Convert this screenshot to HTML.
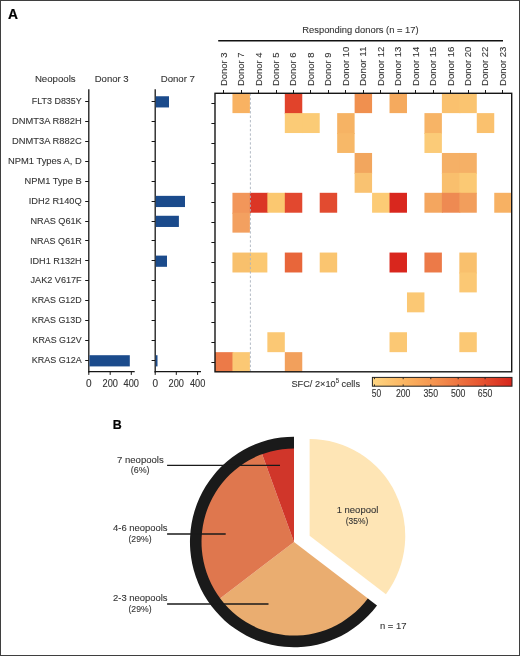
<!DOCTYPE html>
<html><head><meta charset="utf-8"><style>
html,body{margin:0;padding:0;background:#fff;}
body{width:520px;height:656px;overflow:hidden;}
svg{display:block;font-family:"Liberation Sans", sans-serif;will-change:transform;}
text{stroke:#353535;stroke-width:0.12px;}
</style></head><body>
<svg width="520" height="656" viewBox="0 0 520 656">
<rect width="520" height="656" fill="#fff"/>
<rect x="0.5" y="0.5" width="519" height="655" fill="none" stroke="#3f3f3f" stroke-width="1"/>
<text x="8" y="18.5" font-size="13.8" font-weight="bold" fill="#000" style="stroke:#000;stroke-width:0.2px">A</text>
<text x="112.8" y="429.4" font-size="12.4" font-weight="bold" fill="#000" style="stroke:#000;stroke-width:0.2px">B</text>
<text x="34.9" y="81.8" font-size="9.9" text-anchor="start" fill="#353535" textLength="40.8" lengthAdjust="spacingAndGlyphs">Neopools</text>
<text x="94.7" y="81.8" font-size="9.9" text-anchor="start" fill="#353535" textLength="34.0" lengthAdjust="spacingAndGlyphs">Donor 3</text>
<text x="160.7" y="81.8" font-size="9.9" text-anchor="start" fill="#353535" textLength="34.3" lengthAdjust="spacingAndGlyphs">Donor 7</text>
<text x="31.85" y="104.2" font-size="9.9" text-anchor="start" fill="#353535" textLength="49.85" lengthAdjust="spacingAndGlyphs">FLT3 D835Y</text>
<text x="12.0" y="124.12" font-size="9.9" text-anchor="start" fill="#353535" textLength="69.7" lengthAdjust="spacingAndGlyphs">DNMT3A R882H</text>
<text x="12.0" y="144.04" font-size="9.9" text-anchor="start" fill="#353535" textLength="69.7" lengthAdjust="spacingAndGlyphs">DNMT3A R882C</text>
<text x="8.0" y="163.95999999999998" font-size="9.9" text-anchor="start" fill="#353535" textLength="73.7" lengthAdjust="spacingAndGlyphs">NPM1 Types A, D</text>
<text x="24.5" y="183.88" font-size="9.9" text-anchor="start" fill="#353535" textLength="57.2" lengthAdjust="spacingAndGlyphs">NPM1 Type B</text>
<text x="28.75" y="203.8" font-size="9.9" text-anchor="start" fill="#353535" textLength="52.95" lengthAdjust="spacingAndGlyphs">IDH2 R140Q</text>
<text x="30.5" y="223.72" font-size="9.9" text-anchor="start" fill="#353535" textLength="51.2" lengthAdjust="spacingAndGlyphs">NRAS Q61K</text>
<text x="30.5" y="243.64" font-size="9.9" text-anchor="start" fill="#353535" textLength="51.2" lengthAdjust="spacingAndGlyphs">NRAS Q61R</text>
<text x="30.0" y="263.56" font-size="9.9" text-anchor="start" fill="#353535" textLength="51.7" lengthAdjust="spacingAndGlyphs">IDH1 R132H</text>
<text x="30.5" y="283.48" font-size="9.9" text-anchor="start" fill="#353535" textLength="51.2" lengthAdjust="spacingAndGlyphs">JAK2 V617F</text>
<text x="31.75" y="303.40000000000003" font-size="9.9" text-anchor="start" fill="#353535" textLength="49.95" lengthAdjust="spacingAndGlyphs">KRAS G12D</text>
<text x="31.75" y="323.32" font-size="9.9" text-anchor="start" fill="#353535" textLength="49.95" lengthAdjust="spacingAndGlyphs">KRAS G13D</text>
<text x="32.5" y="343.24" font-size="9.9" text-anchor="start" fill="#353535" textLength="49.2" lengthAdjust="spacingAndGlyphs">KRAS G12V</text>
<text x="31.75" y="363.16" font-size="9.9" text-anchor="start" fill="#353535" textLength="49.95" lengthAdjust="spacingAndGlyphs">KRAS G12A</text>
<line x1="88.8" y1="89.2" x2="88.8" y2="372.4" stroke="#161616" stroke-width="1.3"/>
<line x1="88.2" y1="371.7" x2="134.7" y2="371.7" stroke="#161616" stroke-width="1.3"/>
<line x1="85.2" y1="101.50" x2="88.8" y2="101.50" stroke="#161616" stroke-width="1"/>
<line x1="85.2" y1="121.50" x2="88.8" y2="121.50" stroke="#161616" stroke-width="1"/>
<line x1="85.2" y1="141.50" x2="88.8" y2="141.50" stroke="#161616" stroke-width="1"/>
<line x1="85.2" y1="161.50" x2="88.8" y2="161.50" stroke="#161616" stroke-width="1"/>
<line x1="85.2" y1="181.50" x2="88.8" y2="181.50" stroke="#161616" stroke-width="1"/>
<line x1="85.2" y1="201.50" x2="88.8" y2="201.50" stroke="#161616" stroke-width="1"/>
<line x1="85.2" y1="221.50" x2="88.8" y2="221.50" stroke="#161616" stroke-width="1"/>
<line x1="85.2" y1="240.50" x2="88.8" y2="240.50" stroke="#161616" stroke-width="1"/>
<line x1="85.2" y1="260.50" x2="88.8" y2="260.50" stroke="#161616" stroke-width="1"/>
<line x1="85.2" y1="280.50" x2="88.8" y2="280.50" stroke="#161616" stroke-width="1"/>
<line x1="85.2" y1="300.50" x2="88.8" y2="300.50" stroke="#161616" stroke-width="1"/>
<line x1="85.2" y1="320.50" x2="88.8" y2="320.50" stroke="#161616" stroke-width="1"/>
<line x1="85.2" y1="340.50" x2="88.8" y2="340.50" stroke="#161616" stroke-width="1"/>
<line x1="85.2" y1="360.50" x2="88.8" y2="360.50" stroke="#161616" stroke-width="1"/>
<line x1="88.8" y1="371.7" x2="88.8" y2="374.9" stroke="#161616" stroke-width="1"/>
<text x="88.8" y="386.6" font-size="10.6" text-anchor="middle" fill="#353535" textLength="5.6" lengthAdjust="spacingAndGlyphs">0</text>
<line x1="110.2" y1="371.7" x2="110.2" y2="374.9" stroke="#161616" stroke-width="1"/>
<text x="110.2" y="386.6" font-size="10.6" text-anchor="middle" fill="#353535" textLength="15.4" lengthAdjust="spacingAndGlyphs">200</text>
<line x1="131.3" y1="371.7" x2="131.3" y2="374.9" stroke="#161616" stroke-width="1"/>
<text x="131.3" y="386.6" font-size="10.6" text-anchor="middle" fill="#353535" textLength="15.4" lengthAdjust="spacingAndGlyphs">400</text>
<line x1="155.2" y1="89.2" x2="155.2" y2="372.4" stroke="#161616" stroke-width="1.3"/>
<line x1="154.6" y1="371.7" x2="201" y2="371.7" stroke="#161616" stroke-width="1.3"/>
<line x1="151.6" y1="101.50" x2="155.2" y2="101.50" stroke="#161616" stroke-width="1"/>
<line x1="151.6" y1="121.50" x2="155.2" y2="121.50" stroke="#161616" stroke-width="1"/>
<line x1="151.6" y1="141.50" x2="155.2" y2="141.50" stroke="#161616" stroke-width="1"/>
<line x1="151.6" y1="161.50" x2="155.2" y2="161.50" stroke="#161616" stroke-width="1"/>
<line x1="151.6" y1="181.50" x2="155.2" y2="181.50" stroke="#161616" stroke-width="1"/>
<line x1="151.6" y1="201.50" x2="155.2" y2="201.50" stroke="#161616" stroke-width="1"/>
<line x1="151.6" y1="221.50" x2="155.2" y2="221.50" stroke="#161616" stroke-width="1"/>
<line x1="151.6" y1="240.50" x2="155.2" y2="240.50" stroke="#161616" stroke-width="1"/>
<line x1="151.6" y1="260.50" x2="155.2" y2="260.50" stroke="#161616" stroke-width="1"/>
<line x1="151.6" y1="280.50" x2="155.2" y2="280.50" stroke="#161616" stroke-width="1"/>
<line x1="151.6" y1="300.50" x2="155.2" y2="300.50" stroke="#161616" stroke-width="1"/>
<line x1="151.6" y1="320.50" x2="155.2" y2="320.50" stroke="#161616" stroke-width="1"/>
<line x1="151.6" y1="340.50" x2="155.2" y2="340.50" stroke="#161616" stroke-width="1"/>
<line x1="151.6" y1="360.50" x2="155.2" y2="360.50" stroke="#161616" stroke-width="1"/>
<line x1="155.2" y1="371.7" x2="155.2" y2="374.9" stroke="#161616" stroke-width="1"/>
<text x="155.2" y="386.6" font-size="10.6" text-anchor="middle" fill="#353535" textLength="5.6" lengthAdjust="spacingAndGlyphs">0</text>
<line x1="176.3" y1="371.7" x2="176.3" y2="374.9" stroke="#161616" stroke-width="1"/>
<text x="176.3" y="386.6" font-size="10.6" text-anchor="middle" fill="#353535" textLength="15.4" lengthAdjust="spacingAndGlyphs">200</text>
<line x1="197.6" y1="371.7" x2="197.6" y2="374.9" stroke="#161616" stroke-width="1"/>
<text x="197.6" y="386.6" font-size="10.6" text-anchor="middle" fill="#353535" textLength="15.4" lengthAdjust="spacingAndGlyphs">400</text>
<rect x="89.4" y="355.21" width="40.400000000000006" height="11.2" fill="#1b4b8c"/>
<rect x="155.8" y="96.25" width="13.199999999999989" height="11.2" fill="#1b4b8c"/>
<rect x="155.8" y="195.85" width="29.19999999999999" height="11.2" fill="#1b4b8c"/>
<rect x="155.8" y="215.77" width="23.099999999999994" height="11.2" fill="#1b4b8c"/>
<rect x="155.8" y="255.61" width="11.199999999999989" height="11.2" fill="#1b4b8c"/>
<rect x="155.8" y="355.21" width="1.6999999999999886" height="11.2" fill="#1b4b8c"/>
<rect x="232.45" y="93.20" width="17.45" height="19.92" fill="#F8B262"/>
<rect x="284.81" y="93.20" width="17.45" height="20.92" fill="#E1432B"/>
<rect x="354.62" y="93.20" width="17.45" height="19.92" fill="#F0904F"/>
<rect x="389.53" y="93.20" width="17.45" height="19.92" fill="#F5AA5E"/>
<rect x="441.89" y="93.20" width="18.45" height="19.92" fill="#FAC16E"/>
<rect x="459.34" y="93.20" width="17.45" height="19.92" fill="#FAC470"/>
<rect x="284.81" y="113.12" width="18.45" height="19.92" fill="#FBCB76"/>
<rect x="302.26" y="113.12" width="17.45" height="19.92" fill="#FBCB76"/>
<rect x="337.17" y="113.12" width="17.45" height="20.92" fill="#F6B364"/>
<rect x="424.44" y="113.12" width="17.45" height="20.92" fill="#F7B466"/>
<rect x="476.79" y="113.12" width="17.45" height="19.92" fill="#FAC16E"/>
<rect x="337.17" y="133.04" width="17.45" height="19.92" fill="#F7B868"/>
<rect x="424.44" y="133.04" width="17.45" height="19.92" fill="#FBCB78"/>
<rect x="354.62" y="152.96" width="17.45" height="20.92" fill="#F2A65E"/>
<rect x="441.89" y="152.96" width="18.45" height="20.92" fill="#F5B066"/>
<rect x="459.34" y="152.96" width="17.45" height="20.92" fill="#F5B066"/>
<rect x="354.62" y="172.88" width="17.45" height="19.92" fill="#F9C271"/>
<rect x="441.89" y="172.88" width="18.45" height="20.92" fill="#F9BF6D"/>
<rect x="459.34" y="172.88" width="17.45" height="20.92" fill="#FBC974"/>
<rect x="232.45" y="192.80" width="18.45" height="20.92" fill="#F2965A"/>
<rect x="249.91" y="192.80" width="18.45" height="19.92" fill="#DB3625"/>
<rect x="267.36" y="192.80" width="18.45" height="19.92" fill="#FBC870"/>
<rect x="284.81" y="192.80" width="17.45" height="19.92" fill="#E2482F"/>
<rect x="319.72" y="192.80" width="17.45" height="19.92" fill="#E24B30"/>
<rect x="372.08" y="192.80" width="18.45" height="19.92" fill="#FCCB75"/>
<rect x="389.53" y="192.80" width="17.45" height="19.92" fill="#D9271E"/>
<rect x="424.44" y="192.80" width="18.45" height="19.92" fill="#F4A65F"/>
<rect x="441.89" y="192.80" width="18.45" height="19.92" fill="#EE8A52"/>
<rect x="459.34" y="192.80" width="17.45" height="19.92" fill="#F29E5C"/>
<rect x="494.25" y="192.80" width="17.45" height="19.92" fill="#F7B163"/>
<rect x="232.45" y="212.72" width="17.45" height="19.92" fill="#F3A060"/>
<rect x="232.45" y="252.56" width="18.45" height="19.92" fill="#F8C06C"/>
<rect x="249.91" y="252.56" width="17.45" height="19.92" fill="#FBC872"/>
<rect x="284.81" y="252.56" width="17.45" height="19.92" fill="#E8663A"/>
<rect x="319.72" y="252.56" width="17.45" height="19.92" fill="#FAC570"/>
<rect x="389.53" y="252.56" width="17.45" height="19.92" fill="#D9261D"/>
<rect x="424.44" y="252.56" width="17.45" height="19.92" fill="#EC7A48"/>
<rect x="459.34" y="252.56" width="17.45" height="20.92" fill="#F9C06D"/>
<rect x="459.34" y="272.48" width="17.45" height="19.92" fill="#FBC874"/>
<rect x="406.98" y="292.40" width="17.45" height="19.92" fill="#FBC874"/>
<rect x="267.36" y="332.24" width="17.45" height="19.92" fill="#FBC874"/>
<rect x="389.53" y="332.24" width="17.45" height="19.92" fill="#FBC874"/>
<rect x="459.34" y="332.24" width="17.45" height="19.92" fill="#FBC874"/>
<rect x="215.00" y="352.16" width="18.45" height="19.92" fill="#EC7A48"/>
<rect x="232.45" y="352.16" width="17.45" height="19.92" fill="#FBC874"/>
<rect x="284.81" y="352.16" width="17.45" height="19.92" fill="#F2A05C"/>
<line x1="250.4" y1="93.3" x2="250.4" y2="371.8" stroke="#aab2be" stroke-width="0.9" stroke-dasharray="2.4,2.05"/>
<rect x="215.0" y="93.3" width="296.70" height="278.50" fill="none" stroke="#161616" stroke-width="1.4"/>
<line x1="211.4" y1="103.50" x2="215.0" y2="103.50" stroke="#161616" stroke-width="1"/>
<line x1="211.4" y1="123.50" x2="215.0" y2="123.50" stroke="#161616" stroke-width="1"/>
<line x1="211.4" y1="143.50" x2="215.0" y2="143.50" stroke="#161616" stroke-width="1"/>
<line x1="211.4" y1="163.50" x2="215.0" y2="163.50" stroke="#161616" stroke-width="1"/>
<line x1="211.4" y1="183.50" x2="215.0" y2="183.50" stroke="#161616" stroke-width="1"/>
<line x1="211.4" y1="202.50" x2="215.0" y2="202.50" stroke="#161616" stroke-width="1"/>
<line x1="211.4" y1="222.50" x2="215.0" y2="222.50" stroke="#161616" stroke-width="1"/>
<line x1="211.4" y1="242.50" x2="215.0" y2="242.50" stroke="#161616" stroke-width="1"/>
<line x1="211.4" y1="262.50" x2="215.0" y2="262.50" stroke="#161616" stroke-width="1"/>
<line x1="211.4" y1="282.50" x2="215.0" y2="282.50" stroke="#161616" stroke-width="1"/>
<line x1="211.4" y1="302.50" x2="215.0" y2="302.50" stroke="#161616" stroke-width="1"/>
<line x1="211.4" y1="322.50" x2="215.0" y2="322.50" stroke="#161616" stroke-width="1"/>
<line x1="211.4" y1="342.50" x2="215.0" y2="342.50" stroke="#161616" stroke-width="1"/>
<line x1="211.4" y1="362.50" x2="215.0" y2="362.50" stroke="#161616" stroke-width="1"/>
<line x1="223.50" y1="90.0" x2="223.50" y2="93.3" stroke="#161616" stroke-width="1"/>
<text transform="translate(226.63,86.0) rotate(-90)" font-size="9.9" fill="#353535" textLength="33.6" lengthAdjust="spacingAndGlyphs">Donor 3</text>
<line x1="241.50" y1="90.0" x2="241.50" y2="93.3" stroke="#161616" stroke-width="1"/>
<text transform="translate(244.08,86.0) rotate(-90)" font-size="9.9" fill="#353535" textLength="33.6" lengthAdjust="spacingAndGlyphs">Donor 7</text>
<line x1="258.50" y1="90.0" x2="258.50" y2="93.3" stroke="#161616" stroke-width="1"/>
<text transform="translate(261.53,86.0) rotate(-90)" font-size="9.9" fill="#353535" textLength="33.6" lengthAdjust="spacingAndGlyphs">Donor 4</text>
<line x1="276.50" y1="90.0" x2="276.50" y2="93.3" stroke="#161616" stroke-width="1"/>
<text transform="translate(278.99,86.0) rotate(-90)" font-size="9.9" fill="#353535" textLength="33.6" lengthAdjust="spacingAndGlyphs">Donor 5</text>
<line x1="293.50" y1="90.0" x2="293.50" y2="93.3" stroke="#161616" stroke-width="1"/>
<text transform="translate(296.44,86.0) rotate(-90)" font-size="9.9" fill="#353535" textLength="33.6" lengthAdjust="spacingAndGlyphs">Donor 6</text>
<line x1="310.50" y1="90.0" x2="310.50" y2="93.3" stroke="#161616" stroke-width="1"/>
<text transform="translate(313.89,86.0) rotate(-90)" font-size="9.9" fill="#353535" textLength="33.6" lengthAdjust="spacingAndGlyphs">Donor 8</text>
<line x1="328.50" y1="90.0" x2="328.50" y2="93.3" stroke="#161616" stroke-width="1"/>
<text transform="translate(331.34,86.0) rotate(-90)" font-size="9.9" fill="#353535" textLength="33.6" lengthAdjust="spacingAndGlyphs">Donor 9</text>
<line x1="345.50" y1="90.0" x2="345.50" y2="93.3" stroke="#161616" stroke-width="1"/>
<text transform="translate(348.80,86.0) rotate(-90)" font-size="9.9" fill="#353535" textLength="39.4" lengthAdjust="spacingAndGlyphs">Donor 10</text>
<line x1="363.50" y1="90.0" x2="363.50" y2="93.3" stroke="#161616" stroke-width="1"/>
<text transform="translate(366.25,86.0) rotate(-90)" font-size="9.9" fill="#353535" textLength="39.4" lengthAdjust="spacingAndGlyphs">Donor 11</text>
<line x1="380.50" y1="90.0" x2="380.50" y2="93.3" stroke="#161616" stroke-width="1"/>
<text transform="translate(383.70,86.0) rotate(-90)" font-size="9.9" fill="#353535" textLength="39.4" lengthAdjust="spacingAndGlyphs">Donor 12</text>
<line x1="398.50" y1="90.0" x2="398.50" y2="93.3" stroke="#161616" stroke-width="1"/>
<text transform="translate(401.16,86.0) rotate(-90)" font-size="9.9" fill="#353535" textLength="39.4" lengthAdjust="spacingAndGlyphs">Donor 13</text>
<line x1="415.50" y1="90.0" x2="415.50" y2="93.3" stroke="#161616" stroke-width="1"/>
<text transform="translate(418.61,86.0) rotate(-90)" font-size="9.9" fill="#353535" textLength="39.4" lengthAdjust="spacingAndGlyphs">Donor 14</text>
<line x1="433.50" y1="90.0" x2="433.50" y2="93.3" stroke="#161616" stroke-width="1"/>
<text transform="translate(436.06,86.0) rotate(-90)" font-size="9.9" fill="#353535" textLength="39.4" lengthAdjust="spacingAndGlyphs">Donor 15</text>
<line x1="450.50" y1="90.0" x2="450.50" y2="93.3" stroke="#161616" stroke-width="1"/>
<text transform="translate(453.51,86.0) rotate(-90)" font-size="9.9" fill="#353535" textLength="39.4" lengthAdjust="spacingAndGlyphs">Donor 16</text>
<line x1="468.50" y1="90.0" x2="468.50" y2="93.3" stroke="#161616" stroke-width="1"/>
<text transform="translate(470.97,86.0) rotate(-90)" font-size="9.9" fill="#353535" textLength="39.4" lengthAdjust="spacingAndGlyphs">Donor 20</text>
<line x1="485.50" y1="90.0" x2="485.50" y2="93.3" stroke="#161616" stroke-width="1"/>
<text transform="translate(488.42,86.0) rotate(-90)" font-size="9.9" fill="#353535" textLength="39.4" lengthAdjust="spacingAndGlyphs">Donor 22</text>
<line x1="502.50" y1="90.0" x2="502.50" y2="93.3" stroke="#161616" stroke-width="1"/>
<text transform="translate(505.87,86.0) rotate(-90)" font-size="9.9" fill="#353535" textLength="39.4" lengthAdjust="spacingAndGlyphs">Donor 23</text>
<line x1="218.2" y1="40.8" x2="503" y2="40.8" stroke="#111" stroke-width="1.5"/>
<text x="302.3" y="33.2" font-size="9.9" text-anchor="start" fill="#353535" textLength="116.3" lengthAdjust="spacingAndGlyphs">Responding donors (n = 17)</text>
<defs><linearGradient id="cb" x1="0" x2="1" y1="0" y2="0"><stop offset="0" stop-color="#FED683"/><stop offset="0.25" stop-color="#FBB25F"/><stop offset="0.5" stop-color="#F28A4B"/><stop offset="0.75" stop-color="#E85A33"/><stop offset="1" stop-color="#D6261D"/></linearGradient></defs>
<rect x="372.4" y="377.4" width="139.6" height="8.8" fill="url(#cb)" stroke="#222" stroke-width="1"/>
<line x1="374.5" y1="377.4" x2="374.5" y2="379.2" stroke="#222" stroke-width="0.9"/>
<line x1="374.5" y1="384.4" x2="374.5" y2="386.2" stroke="#222" stroke-width="0.9"/>
<text x="376.4" y="397.3" font-size="10.5" text-anchor="middle" fill="#353535" textLength="9.4" lengthAdjust="spacingAndGlyphs">50</text>
<line x1="403.2" y1="377.4" x2="403.2" y2="379.2" stroke="#222" stroke-width="0.9"/>
<line x1="403.2" y1="384.4" x2="403.2" y2="386.2" stroke="#222" stroke-width="0.9"/>
<text x="403.2" y="397.3" font-size="10.5" text-anchor="middle" fill="#353535" textLength="14.6" lengthAdjust="spacingAndGlyphs">200</text>
<line x1="430.8" y1="377.4" x2="430.8" y2="379.2" stroke="#222" stroke-width="0.9"/>
<line x1="430.8" y1="384.4" x2="430.8" y2="386.2" stroke="#222" stroke-width="0.9"/>
<text x="430.8" y="397.3" font-size="10.5" text-anchor="middle" fill="#353535" textLength="14.6" lengthAdjust="spacingAndGlyphs">350</text>
<line x1="458.2" y1="377.4" x2="458.2" y2="379.2" stroke="#222" stroke-width="0.9"/>
<line x1="458.2" y1="384.4" x2="458.2" y2="386.2" stroke="#222" stroke-width="0.9"/>
<text x="458.2" y="397.3" font-size="10.5" text-anchor="middle" fill="#353535" textLength="14.6" lengthAdjust="spacingAndGlyphs">500</text>
<line x1="485.1" y1="377.4" x2="485.1" y2="379.2" stroke="#222" stroke-width="0.9"/>
<line x1="485.1" y1="384.4" x2="485.1" y2="386.2" stroke="#222" stroke-width="0.9"/>
<text x="485.1" y="397.3" font-size="10.5" text-anchor="middle" fill="#353535" textLength="14.6" lengthAdjust="spacingAndGlyphs">650</text>
<text x="291.4" y="386.6" font-size="9.9" fill="#353535" textLength="68.6" lengthAdjust="spacingAndGlyphs">SFC/ 2×10<tspan font-size="6.5" dy="-3.5">5</tspan><tspan dy="3.5"> cells</tspan></text>
<g transform="translate(294,0) scale(0.988,1) translate(-294,0)">
<path d="M294.00,542.00 L370.21,599.55 A95.5,95.5 0 0 1 217.79,599.55 Z" fill="#EAAD70"/>
<path d="M294.00,542.00 L217.79,599.55 A95.5,95.5 0 0 1 261.02,452.37 Z" fill="#DF774E"/>
<path d="M294.00,542.00 L261.02,452.37 A95.5,95.5 0 0 1 294.00,446.50 Z" fill="#D0362A"/>
<path d="M378.03,605.46 A105.3,105.3 0 1 1 294.00,436.70 L294.00,448.40 A93.6,93.6 0 1 0 368.69,598.41 Z" fill="#1a1a1a"/>
<path d="M309.80,535.80 L309.80,439.00 A96.8,96.8 0 0 1 387.05,594.14 Z" fill="#FEE5B5"/>
</g>
<line x1="167.1" y1="465.4" x2="280.0" y2="465.4" stroke="#1a1a1a" stroke-width="1.3"/>
<line x1="167.1" y1="534.0" x2="225.7" y2="534.0" stroke="#1a1a1a" stroke-width="1.3"/>
<line x1="167.1" y1="604.0" x2="268.5" y2="604.0" stroke="#1a1a1a" stroke-width="1.3"/>
<text x="140.4" y="463.3" font-size="9.9" text-anchor="middle" fill="#353535" textLength="46.75" lengthAdjust="spacingAndGlyphs">7 neopools</text>
<text x="140.2" y="473.3" font-size="9.9" text-anchor="middle" fill="#353535" textLength="18.8" lengthAdjust="spacingAndGlyphs">(6%)</text>
<text x="140.3" y="530.9" font-size="9.9" text-anchor="middle" fill="#353535" textLength="54.5" lengthAdjust="spacingAndGlyphs">4-6 neopools</text>
<text x="140.0" y="541.8" font-size="9.9" text-anchor="middle" fill="#353535" textLength="23.0" lengthAdjust="spacingAndGlyphs">(29%)</text>
<text x="140.3" y="600.7" font-size="9.9" text-anchor="middle" fill="#353535" textLength="54.5" lengthAdjust="spacingAndGlyphs">2-3 neopools</text>
<text x="140.0" y="611.8" font-size="9.9" text-anchor="middle" fill="#353535" textLength="23.0" lengthAdjust="spacingAndGlyphs">(29%)</text>
<text x="357.5" y="513.0" font-size="9.9" text-anchor="middle" fill="#353535" textLength="41.6" lengthAdjust="spacingAndGlyphs">1 neopool</text>
<text x="357.0" y="523.6" font-size="9.9" text-anchor="middle" fill="#353535" textLength="22.4" lengthAdjust="spacingAndGlyphs">(35%)</text>
<text x="380" y="629.3" font-size="9.9" text-anchor="start" fill="#353535" textLength="26.5" lengthAdjust="spacingAndGlyphs">n = 17</text>
</svg>
</body></html>
